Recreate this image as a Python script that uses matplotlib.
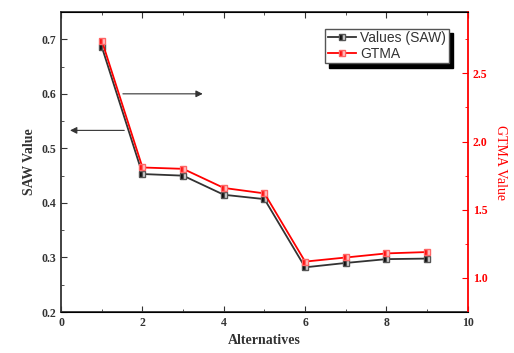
import matplotlib
matplotlib.use("Agg")
import matplotlib.pyplot as plt
from matplotlib.ticker import MultipleLocator

# ------------------------------
# dados
# ------------------------------
alternativas = [1, 2, 3, 4, 5, 6, 7, 8, 9]
saw = [0.686, 0.453, 0.450, 0.415, 0.407, 0.282, 0.290, 0.297, 0.298]
gtma = [2.74, 1.81, 1.80, 1.66, 1.62, 1.12, 1.15, 1.18, 1.19]

serif = "Liberation Serif"

fig = plt.figure(figsize=(5.14, 3.53), dpi=100)
ax = fig.add_axes([0.119, 0.116, 0.791, 0.850])
ax2 = ax.twinx()

l1, = ax.plot(alternativas, saw, color="#333333", lw=1.3, marker="s", ms=5,
              fillstyle="left", markerfacecolor="black",
              markerfacecoloralt="#dddddd", markeredgecolor="#555555",
              label="Values (SAW)")
l2, = ax2.plot(alternativas, gtma, color="red", lw=1.3, marker="s", ms=5,
               fillstyle="left", markerfacecolor="red",
               markerfacecoloralt="#ffcccc", markeredgecolor="#ff6666",
               label="GTMA")

ax.set_xlim(0, 10)
ax.set_ylim(0.2, 0.75)
ax2.set_ylim(0.75, 2.95)

ax.xaxis.set_major_locator(MultipleLocator(2))
ax.xaxis.set_minor_locator(MultipleLocator(1))
ax.yaxis.set_major_locator(MultipleLocator(0.1))
ax.yaxis.set_minor_locator(MultipleLocator(0.05))
ax2.yaxis.set_major_locator(MultipleLocator(0.5))
ax2.yaxis.set_minor_locator(MultipleLocator(0.25))

ax.tick_params(which="both", direction="in", top=True, right=False,
               color="#333333")
ax.tick_params(which="major", length=4)
ax.tick_params(which="minor", length=2.5)
ax2.tick_params(which="both", direction="in", colors="red")
ax2.tick_params(which="major", length=4)
ax2.tick_params(which="minor", length=2.5)

for lab in ax.get_xticklabels() + ax.get_yticklabels():
    lab.set_fontfamily(serif)
    lab.set_fontweight("bold")
    lab.set_fontsize(8.5)
    lab.set_color("#333333")
for lab in ax2.get_yticklabels():
    lab.set_fontfamily(serif)
    lab.set_fontweight("bold")
    lab.set_fontsize(8.5)
    lab.set_color("red")

for s in ["left", "bottom", "top"]:
    ax.spines[s].set_color("#333333")
    ax.spines[s].set_linewidth(1.3)
ax2.spines["right"].set_color("red")
ax2.spines["right"].set_linewidth(1.3)
ax2.spines["left"].set_visible(False)
ax.spines["right"].set_visible(False)

ax.set_xlabel("Alternatives", fontfamily=serif, fontweight="bold",
              fontsize=10, color="#333333")
ax.set_ylabel("SAW Value", fontfamily=serif, fontweight="bold",
              fontsize=10, color="#333333")
ax2.set_ylabel("GTMA Value", fontfamily=serif, fontsize=10, color="red",
               rotation=270, labelpad=14)

# setas
ax.annotate("", xy=(3.55, 0.6), xytext=(1.45, 0.6),
            arrowprops=dict(arrowstyle="-|>", color="#333333", lw=0.8))
ax.annotate("", xy=(0.15, 0.533), xytext=(1.62, 0.533),
            arrowprops=dict(arrowstyle="-|>", color="#333333", lw=0.8))

leg = ax.legend(handles=[l1, l2], loc="upper right",
                bbox_to_anchor=(0.953, 0.945),
                prop={"family": "Liberation Sans", "size": 10},
                shadow={"color": "black", "alpha": 1, "ox": 3, "oy": -3},
                fancybox=False, edgecolor="#555555", framealpha=1,
                handlelength=2.0, borderpad=0.2, labelspacing=0.1,
                handletextpad=0.3, borderaxespad=0)
for t in leg.get_texts():
    t.set_color("#333333")

fig.savefig("out.png", dpi=100)
